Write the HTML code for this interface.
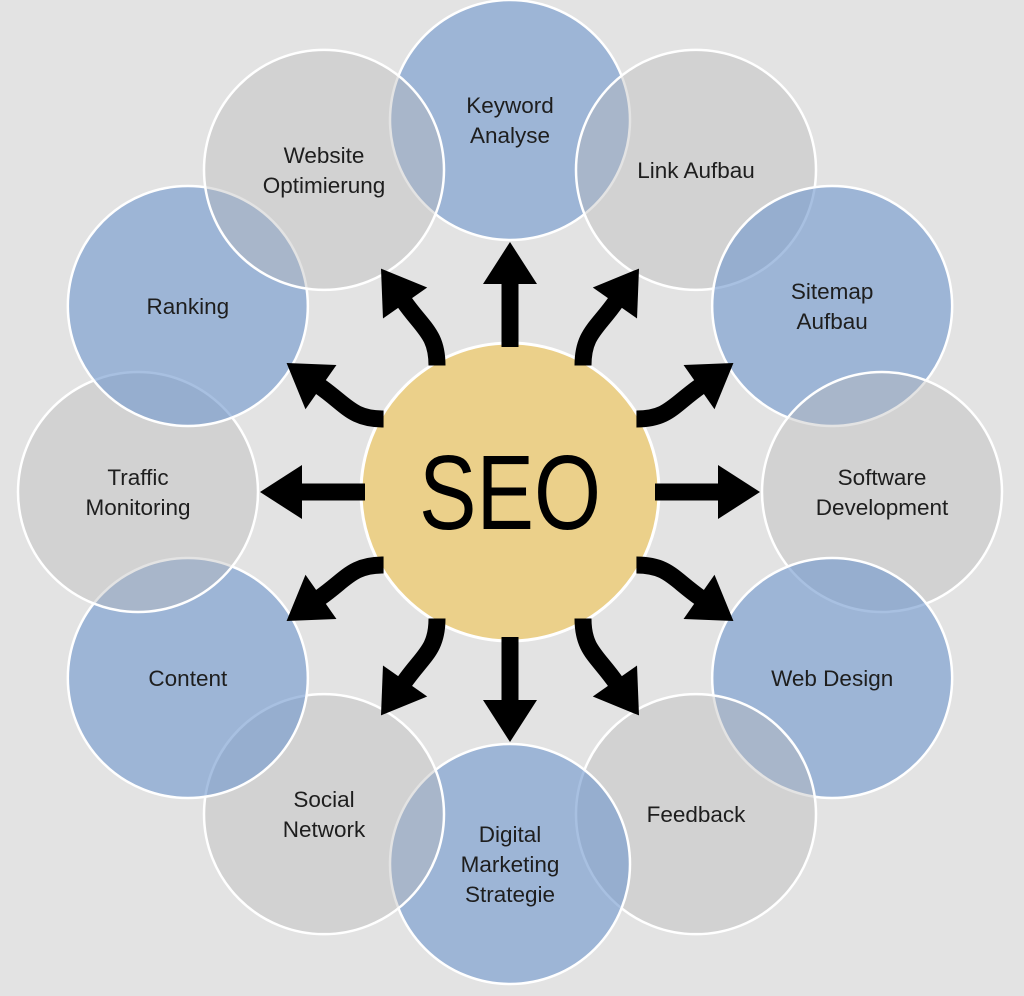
<!DOCTYPE html>
<html><head><meta charset="utf-8"><style>
html,body{margin:0;padding:0;background:#e3e3e3;}
svg{display:block;}
text{font-family:"Liberation Sans","DejaVu Sans",sans-serif;fill:#1e1e1e;}
</style></head><body>
<svg id="s" width="1024" height="996" viewBox="0 0 1024 996" xmlns="http://www.w3.org/2000/svg">
<rect width="1024" height="996" fill="#e3e3e3"/>
<g id="circ"></g>
<circle cx="510" cy="492" r="149" fill="#ebd08a" stroke="#fff" stroke-width="3"/>
<text x="510" y="529" font-size="106" text-anchor="middle" textLength="182" lengthAdjust="spacingAndGlyphs" style="fill:#000">SEO</text>
<g id="arr"></g>
<g id="lab" font-size="22.5" text-anchor="middle"></g>
</svg>
<script>
var cx=510,cy=492,R=372,ns="http://www.w3.org/2000/svg";
var items=[
["Keyword|Analyse",1],["Link Aufbau",0],["Sitemap|Aufbau",1],["Software|Development",0],
["Web Design",1],["Feedback",0],["Digital|Marketing|Strategie",1],["Social|Network",0],
["Content",1],["Traffic|Monitoring",0],["Ranking",1],["Website|Optimierung",0]];
function el(t,a,p){var e=document.createElementNS(ns,t);for(var k in a)e.setAttribute(k,a[k]);p.appendChild(e);return e;}
var cg=document.getElementById("circ"),lg=document.getElementById("lab"),ag=document.getElementById("arr");
items.forEach(function(it,i){
 var a=i*30*Math.PI/180,x=cx+R*Math.sin(a),y=cy-R*Math.cos(a);
 el("circle",{cx:x,cy:y,r:120,fill:it[1]?"rgba(110,150,205,0.6)":"rgba(185,185,185,0.4)",stroke:"#fff","stroke-width":2.5},cg);
 var lines=it[0].split("|"),n=lines.length;
 lines.forEach(function(l,j){var t=el("text",{x:x,y:y+8+(j-(n-1)/2)*30},lg);t.textContent=l;});
});
function P(r,d){var a=d*Math.PI/180;return [cx+r*Math.sin(a),cy-r*Math.cos(a)];}
function D(d){var a=d*Math.PI/180;return [Math.sin(a),-Math.cos(a)];}
function head(T,d1){var B=[T[0]-42*d1[0],T[1]-42*d1[1]],n=[-d1[1],d1[0]];
 el("polygon",{points:T.join(",")+" "+(B[0]+27*n[0])+","+(B[1]+27*n[1])+" "+(B[0]-27*n[0])+","+(B[1]-27*n[1]),fill:"#000"},ag);return B;}
[0,90,180,270].forEach(function(d){var S=P(145,d),T=P(250,d),B=head(T,D(d));
 el("line",{x1:S[0],y1:S[1],x2:B[0]+D(d)[0]*2,y2:B[1]+D(d)[1]*2,stroke:"#000","stroke-width":17},ag);});
[[30,0,35],[60,90,55],[120,90,125],[150,180,145],[210,180,215],[240,270,235],[300,270,305],[330,360,325]].forEach(function(c){
 var S=P(146,c[0]),T=P(258,c[0]),d0=D(c[1]),d1=D(c[2]),B=head(T,d1);
 var L=Math.hypot(B[0]-S[0],B[1]-S[1])*0.45;
 var C1=[S[0]+d0[0]*L,S[1]+d0[1]*L],C2=[B[0]-d1[0]*L,B[1]-d1[1]*L],E=[B[0]+d1[0]*2,B[1]+d1[1]*2];
 el("path",{d:"M"+S.join(",")+" C"+C1.join(",")+" "+C2.join(",")+" "+E.join(","),fill:"none",stroke:"#000","stroke-width":17},ag);});
</script>
</body></html>
